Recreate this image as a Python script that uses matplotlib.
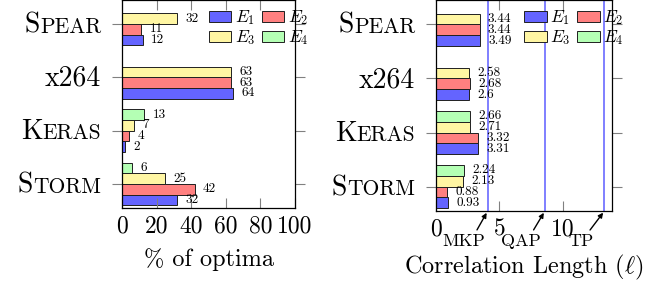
import numpy as np
import matplotlib.pyplot as plt
from matplotlib.offsetbox import TextArea, HPacker, AnnotationBbox

plt.rcParams['font.family'] = 'cmr10'
plt.rcParams['mathtext.fontset'] = 'cm'
plt.rcParams['axes.unicode_minus'] = False

# Data (bottom to top)
systems = ['Storm', 'Keras', 'x264', 'Spear']
series = ['$E_1$', '$E_2$', '$E_3$', '$E_4$']
colors = ['#6464ff', '#ff8080', '#fff6a3', '#b4ffb4']

optima_e1 = [32, 2, 64, 12]
optima_e2 = [42, 4, 63, 11]
optima_e3 = [25, 7, 63, 32]
optima_e4 = [6, 13, None, None]

corr_e1 = [0.93, 3.31, 2.6, 3.49]
corr_e2 = [0.88, 3.32, 2.68, 3.44]
corr_e3 = [2.13, 2.71, 2.58, 3.44]
corr_e4 = [2.24, 2.66, None, None]

ref_names = ['MKP', 'QAP', 'TP']
ref_lengths = [4.08, 8.6, 13.3]

optima = [optima_e1, optima_e2, optima_e3, optima_e4]
corr = [corr_e1, corr_e2, corr_e3, corr_e4]

w = 0.2
shifts = [-1.5, -0.5, 0.5, 1.5]
ypos = np.arange(len(systems))

fig = plt.figure(figsize=(6.72, 2.81), dpi=100)
ax1 = fig.add_axes([122 / 672, 1 - 208 / 281, 173 / 672, 208 / 281])
ax2 = fig.add_axes([436 / 672, 1 - 211 / 281, 176 / 672, 211 / 281])


def draw_bars(ax, data):
    handles = []
    for k, vals in enumerate(data):
        h = None
        for i, v in enumerate(vals):
            if v is None:
                continue
            y = ypos[i] + shifts[k] * w
            h = ax.barh(y, v, height=w, color=colors[k], edgecolor='#202020',
                        linewidth=0.7, label=series[k])
            ax.annotate(f'{v:g}', (v, y), xytext=(6, 0), textcoords='offset points',
                        va='center', ha='left', fontsize=9.5)
        handles.append(h)
    return handles


def sc_label(ax, y, word):
    if word[0].isupper() and word[1:].islower():
        parts = [TextArea(word[0], textprops=dict(size=20)),
                 TextArea(word[1:].upper(), textprops=dict(size=15.5))]
    else:
        parts = [TextArea(word, textprops=dict(size=20))]
    box = HPacker(children=parts, align='baseline', pad=0, sep=0)
    ab = AnnotationBbox(box, (0, y), xycoords=ax.get_yaxis_transform(),
                        xybox=(-15, -1), boxcoords='offset points',
                        box_alignment=(1, 0.5), frameon=False, pad=0)
    ax.add_artist(ab)


for ax, data in [(ax1, optima), (ax2, corr)]:
    hs = draw_bars(ax, data)
    ax.set_ylim(-0.45, 3.45)
    ax.set_yticks(ypos)
    ax.set_yticklabels([''] * len(ypos))
    for i, s in enumerate(systems):
        sc_label(ax, ypos[i], s)
    ax.tick_params(axis='y', direction='out', length=7, color='gray', right=True)
    ax.tick_params(axis='x', direction='in', length=7, color='gray', top=True,
                   labelsize=17, pad=5)
    for sp in ax.spines.values():
        sp.set_linewidth(0.9)
    ax.legend([hs[0], hs[2], hs[1], hs[3]], [series[0], series[2], series[1], series[3]],
              ncol=2, frameon=False, loc='upper left', bbox_to_anchor=(0.5, 0.96),
              borderpad=0, borderaxespad=0, fontsize=12.5, handlelength=1.3,
              handleheight=0.6, handletextpad=0.2, columnspacing=0.4,
              labelspacing=0.05)

ax1.set_xlim(0, 100)
ax1.set_xticks([0, 20, 40, 60, 80, 100])
ax1.set_xlabel('% of optima', fontsize=17.5, labelpad=8)

ax2.set_xlim(0, 13.9)
ax2.set_xticks([0, 5, 10])
for name, x in zip(ref_names, ref_lengths):
    ax2.axvline(x, color='#6a6aff', lw=1.2, zorder=1)
    ax2.annotate(name, xy=(x, 0), xycoords=('data', 'axes fraction'),
                 xytext=(-17, -22), textcoords='offset points',
                 ha='center', va='center', fontsize=13,
                 arrowprops=dict(arrowstyle='-|>', color='black', lw=1,
                                 relpos=(0.75, 1.0), shrinkA=1, shrinkB=1.5,
                                 mutation_scale=7))
ax2.set_xlabel(r'Correlation Length ($\ell$)', fontsize=17.5, labelpad=9.5)

fig.savefig('out.png', dpi=100)
